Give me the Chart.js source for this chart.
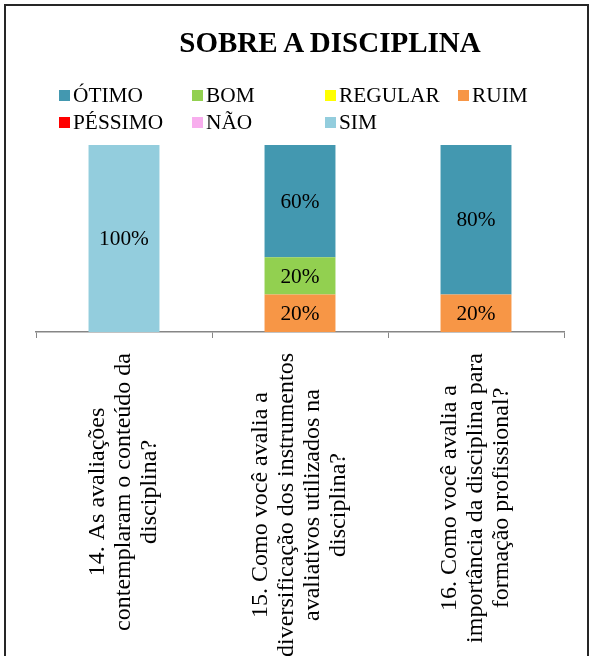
<!DOCTYPE html>
<html>
<head>
<meta charset="utf-8">
<title>Sobre a disciplina</title>
<script src="https://cdn.jsdelivr.net/npm/chart.js@4/dist/chart.umd.min.js"></script>
<style>
  html, body { margin: 0; padding: 0; background: #fff; overflow: hidden; }
  body { width: 590px; height: 656px; position: relative; font-family: "Liberation Serif", "Times New Roman", serif; }
  .frame { position: absolute; left: 4px; top: 4px; width: 585px; height: 720px; box-sizing: border-box; border: 2px solid #262626; }
  .chart-holder { position: absolute; left: 0; top: 0; width: 590px; height: 656px; }
  .chart-title { position: absolute; left: 0; top: 24px; width: 660px; text-align: center; font-weight: bold; font-size: 29px; line-height: 36px; color: #000; }
  .legend { position: absolute; left: 59px; top: 82px; display: grid; grid-template-columns: repeat(4, 133px); grid-auto-rows: 27px; }
  .legend-item { display: flex; align-items: center; font-size: 21.33px; color: #000; white-space: nowrap; }
  .legend-box { width: 11px; height: 11px; margin-right: 3px; flex: none; }
</style>
</head>
<body>
<div class="frame"></div>
<div class="chart-holder"><canvas id="chart" width="590" height="656"></canvas></div>
<div class="chart-title">SOBRE A DISCIPLINA</div>
<div class="legend" id="legend"></div>
<script>
  // categories, one entry per line of the rotated label
  const categories = [
    ['14. As avaliações', 'contemplaram o conteúdo da', 'disciplina?'],
    ['15. Como você avalia a', 'diversificação dos instrumentos', 'avaliativos utilizados na', 'disciplina?'],
    ['16. Como você avalia a', 'importância da disciplina para', 'formação profissional?'],
  ];

  const seriesNames = ['ÓTIMO', 'BOM', 'REGULAR', 'RUIM', 'PÉSSIMO', 'NÃO', 'SIM'];
  const seriesColors = ['#4398B0', '#92D050', '#FFFF00', '#F79646', '#FF0000', '#F8AEEE', '#93CDDD'];

  // percentages per category
  const otimo = [0, 60, 80];
  const bom = [0, 20, 0];
  const regular = [0, 0, 0];
  const ruim = [0, 20, 20];
  const pessimo = [0, 0, 0];
  const nao = [0, 0, 0];
  const sim = [100, 0, 0];

  const seriesValues = [otimo, bom, regular, ruim, pessimo, nao, sim];

  const FONT = '"Liberation Serif", "Times New Roman", serif';
  const VALUE_SIZE = 21.33;
  const AXIS_SIZE = 24;
  const LINE_HEIGHT = 26;

  const valueLabels = {
    id: 'valueLabels',
    afterDatasetsDraw(chart) {
      const { ctx } = chart;
      ctx.save();
      ctx.font = `${VALUE_SIZE}px ${FONT}`;
      ctx.fillStyle = '#000';
      ctx.textAlign = 'center';
      ctx.textBaseline = 'middle';
      chart.data.datasets.forEach((ds, i) => {
        const meta = chart.getDatasetMeta(i);
        meta.data.forEach((bar, j) => {
          const v = ds.data[j];
          if (!v) return;
          const { x, y, base } = bar.getProps(['x', 'y', 'base'], true);
          ctx.fillText(`${v}%`, x, (y + base) / 2 + 1);
        });
      });
      ctx.restore();
    },
  };

  // rotated, centred multi-line category labels (Excel style)
  const categoryLabels = {
    id: 'categoryLabels',
    afterDraw(chart) {
      const { ctx } = chart;
      const xScale = chart.scales.x;
      ctx.save();
      ctx.font = `${AXIS_SIZE}px ${FONT}`;
      ctx.fillStyle = '#000';
      ctx.textAlign = 'center';
      ctx.textBaseline = 'middle';
      chart.data.labels.forEach((lines, i) => {
        const cx = xScale.getPixelForValue(i);
        const widest = Math.max(...lines.map((l) => ctx.measureText(l).width));
        const cy = xScale.bottom + 15 + widest / 2;
        lines.forEach((line, j) => {
          ctx.save();
          ctx.translate(cx + (j - (lines.length - 1) / 2) * LINE_HEIGHT, cy);
          ctx.rotate(-Math.PI / 2);
          ctx.fillText(line, 0, 0);
          ctx.restore();
        });
      });
      ctx.restore();
    },
  };

  // Excel draws the first series on top here, so stack in reverse
  const datasets = seriesNames.map((name, i) => ({
    label: name,
    data: seriesValues[i],
    backgroundColor: seriesColors[i],
    borderWidth: 0,
    categoryPercentage: 1,
    barPercentage: 0.403,
  })).reverse();

  const initChart = () => new Chart(document.getElementById('chart'), {
    type: 'bar',
    data: {
      labels: categories,
      datasets,
    },
    options: {
      responsive: false,
      animation: false,
      layout: {
        padding: { left: 36, right: 26, top: 145, bottom: 318 },
      },
      plugins: {
        legend: { display: false },
        title: { display: false },
        tooltip: { enabled: false },
      },
      scales: {
        x: {
          stacked: true,
          offset: true,
          grid: {
            offset: true,
            drawOnChartArea: false,
            drawTicks: true,
            tickLength: 6,
            color: '#868686',
          },
          border: { color: '#868686', width: 1.5 },
          ticks: { display: false },
        },
        y: {
          stacked: true,
          display: false,
          min: 0,
          max: 100,
        },
      },
    },
    plugins: [valueLabels, categoryLabels],
  });

  const initLegend = () => {
    const holder = document.getElementById('legend');
    seriesNames.forEach((name, i) => {
      const item = document.createElement('div');
      item.className = 'legend-item';
      const box = document.createElement('span');
      box.className = 'legend-box';
      box.style.background = seriesColors[i];
      item.appendChild(box);
      item.appendChild(document.createTextNode(name));
      holder.appendChild(item);
    });
  };

  const init = () => {
    initChart();
    initLegend();
  };

  init();
</script>
</body>
</html>
